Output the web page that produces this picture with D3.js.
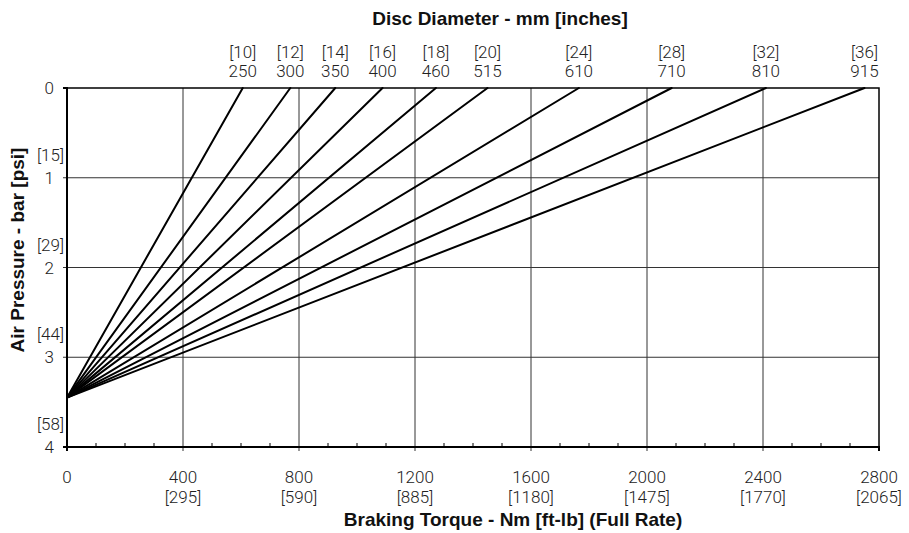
<!DOCTYPE html>
<html>
<head>
<meta charset="utf-8">
<script src="https://cdn.jsdelivr.net/npm/d3@7"></script>
<style>
  body { margin: 0; background: #fff; }
  svg { display: block; }
  .tick-label { font-family: Roboto, "Liberation Sans", sans-serif; font-weight: 300; font-size: 17px; fill: #222; }
  .title { font-family: "Liberation Sans", Arial, sans-serif; font-weight: bold; font-size: 19px; fill: #111; }
</style>
</head>
<body>
<svg id="chart" width="909" height="533"></svg>
<script>
// disc sizes and where each line meets 0 bar
var diameterMm = [250, 300, 350, 400, 460, 515, 610, 710, 810, 915]
var diameterIn = [10, 12, 14, 16, 18, 20, 24, 28, 32, 36]
var torqueAtZeroBar = [606, 770, 925, 1088, 1272, 1450, 1765, 2085, 2410, 2750]
var startPressure = 3.45

// axis ticks
var torqueTicks = [0, 400, 800, 1200, 1600, 2000, 2400, 2800]
var ftlbTicks = ['', '[295]', '[590]', '[885]', '[1180]', '[1475]', '[1770]', '[2065]']
var minorTorqueTicks = d3.range(0, 2801, 100)
var pressureTicks = [0, 1, 2, 3, 4]
var psiTicks = ['', '[15]', '[29]', '[44]', '[58]']

var svg = d3.select('#chart')

const plotLeft = 67, plotRight = 879, plotTop = 88, plotBottom = 447

var x = d3.scaleLinear().domain([0, 2800]).range([plotLeft, plotRight])
var y = d3.scaleLinear().domain([0, 4]).range([plotTop, plotBottom])

// grid
svg.append('g')
    .selectAll('line')
    .data(torqueTicks.slice(1, -1))
    .enter().append('line')
    .attr('x1', d => x(d)).attr('x2', d => x(d))
    .attr('y1', plotTop).attr('y2', plotBottom + 4)
    .style('stroke', '#333').style('stroke-width', 1)

svg.append('g')
    .selectAll('line')
    .data(pressureTicks.slice(1, -1))
    .enter().append('line')
    .attr('x1', plotLeft - 4).attr('x2', plotRight)
    .attr('y1', d => y(d)).attr('y2', d => y(d))
    .style('stroke', '#333').style('stroke-width', 1)

// minor ticks on the bottom axis
svg.append('g')
    .selectAll('line')
    .data(minorTorqueTicks.filter(d => d % 400 != 0))
    .enter().append('line')
    .attr('x1', d => x(d)).attr('x2', d => x(d))
    .attr('y1', plotBottom - 4).attr('y2', plotBottom)
    .style('stroke', '#000').style('stroke-width', 1)

// frame
svg.append('rect')
    .attr('x', plotLeft).attr('y', plotTop)
    .attr('width', plotRight - plotLeft).attr('height', plotBottom - plotTop)
    .style('fill', 'none').style('stroke', '#000').style('stroke-width', 1.5)

svg.append('path')
    .attr('d', `M ${plotLeft - 4} ${plotTop} H ${plotLeft} V ${plotBottom + 4} M ${plotLeft - 4} ${plotBottom} H ${plotRight} V ${plotBottom + 4}`)
    .style('fill', 'none').style('stroke', '#000').style('stroke-width', 2)

// the disc lines
svg.append('g')
    .selectAll('line')
    .data(torqueAtZeroBar)
    .enter().append('line')
    .attr('x1', x(0)).attr('y1', y(startPressure))
    .attr('x2', d => x(d)).attr('y2', y(0))
    .style('stroke', '#000').style('stroke-width', 2)
    .style('stroke-linecap', 'round')

// top labels
var topLabels = svg.append('g')
    .selectAll('g')
    .data(torqueAtZeroBar)
    .enter().append('g')
    .attr('transform', d => `translate(${x(d)},0)`)

topLabels.append('text')
    .attr('class', 'tick-label')
    .attr('y', 58).attr('text-anchor', 'middle')
    .text((d, i) => `[${diameterIn[i]}]`)

topLabels.append('text')
    .attr('class', 'tick-label')
    .attr('y', 77).attr('text-anchor', 'middle')
    .text((d, i) => diameterMm[i])

// bottom labels
var xLabels = svg.append('g')
    .selectAll('g')
    .data(torqueTicks)
    .enter().append('g')
    .attr('transform', d => `translate(${x(d)},0)`)

xLabels.append('text')
    .attr('class', 'tick-label')
    .attr('y', 483).attr('text-anchor', 'middle')
    .text(d => d)

xLabels.append('text')
    .attr('class', 'tick-label')
    .attr('y', 503).attr('text-anchor', 'middle')
    .text((d, i) => ftlbTicks[i])

// left labels
var yLabels = svg.append('g')
    .selectAll('g')
    .data(pressureTicks)
    .enter().append('g')
    .attr('transform', d => `translate(0,${y(d)})`)

yLabels.append('text')
    .attr('class', 'tick-label')
    .attr('x', 54).attr('y', 6).attr('text-anchor', 'end')
    .text(d => d)

yLabels.append('text')
    .attr('class', 'tick-label')
    .attr('x', 64).attr('y', -17).attr('text-anchor', 'end')
    .text((d, i) => psiTicks[i])

// titles
svg.append('text')
    .attr('class', 'title')
    .attr('x', 500).attr('y', 25).attr('text-anchor', 'middle')
    .text('Disc Diameter - mm [inches]')

svg.append('text')
    .attr('class', 'title')
    .attr('x', 513).attr('y', 526).attr('text-anchor', 'middle')
    .text('Braking Torque - Nm [ft-lb] (Full Rate)')

svg.append('text')
    .attr('class', 'title')
    .attr('transform', 'translate(24,250) rotate(-90)')
    .attr('text-anchor', 'middle')
    .text('Air Pressure - bar [psi]')
</script>
</body>
</html>
